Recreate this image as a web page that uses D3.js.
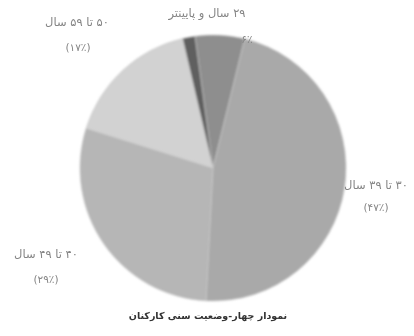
<!DOCTYPE html>
<html><head><meta charset="utf-8">
<script src="https://cdn.jsdelivr.net/npm/d3@7"></script>
<style>body{margin:0;background:#fff}svg{display:block}</style>
</head><body>
<svg id="c" width="414" height="336"></svg>
<script>
const categories = ["۲۹ سال و پایینتر", "۳۰ تا ۳۹ سال", "۴۰ تا ۴۹ سال", "۵۰ تا ۵۹ سال", "۶۰ سال و بیشتر"];
const values = [6, 47, 29, 16.5, 1.5];
const valueLabels = ["۶٪", "(۴۷٪)", "(۲۹٪)", "(۱۷٪)", ""];
const colors = ["#8e8e8e", "#a9a9a9", "#b6b6b6", "#d2d2d2", "#5e5e5e"];
const title = "نمودار چهار-وضعیت سنی کارکنان";

const svg = d3.select("#c");
const defs = svg.append("defs");
const f = defs.append("filter").attr("id","soft").attr("x","-10%").attr("y","-10%").attr("width","120%").attr("height","120%");
f.append("feGaussianBlur").attr("stdDeviation",0.9);
const ft = defs.append("filter").attr("id","softt");
ft.append("feGaussianBlur").attr("stdDeviation",0.45);

const cx = 213, cy = 168, r = 133;
const start = -7.8 * Math.PI / 180;
const pie = d3.pie().sort(null).startAngle(start).endAngle(start + 2*Math.PI);
const arcs = pie(values);
const arc = d3.arc().innerRadius(0).outerRadius(r);
const g = svg.append("g").attr("transform",`translate(${cx},${cy})`).attr("filter","url(#soft)");
g.selectAll("path").data(arcs).enter().append("path")
  .attr("d", arc).attr("fill", (d,i)=>colors[i])
  .attr("stroke","#c8c8c8").attr("stroke-width",0.6);

const labelPos = [
  {x:207, y:17, vx:247, vy:43},
  {x:376, y:189, vx:376, vy:211},
  {x:46, y:258, vx:46, vy:283},
  {x:77, y:26, vx:78, vy:51}
];
const tg = svg.append("g").attr("filter","url(#softt)")
  .attr("font-family","DejaVu Sans, sans-serif").attr("fill","#858585").attr("font-size",11.5);
labelPos.forEach((p,i)=>{
  tg.append("text").attr("x",p.x).attr("y",p.y).attr("text-anchor","middle").attr("direction","rtl").text(categories[i]);
  tg.append("text").attr("x",p.vx).attr("y",p.vy).attr("text-anchor","middle").attr("font-size",10.5).text(valueLabels[i]);
});
svg.append("text").attr("x",208).attr("y",319).attr("text-anchor","middle")
  .attr("font-family","DejaVu Sans, sans-serif").attr("font-weight","bold").attr("font-size",9.5)
  .attr("fill","#333").attr("direction","rtl").attr("filter","url(#softt)").text(title);
</script>
</body></html>
